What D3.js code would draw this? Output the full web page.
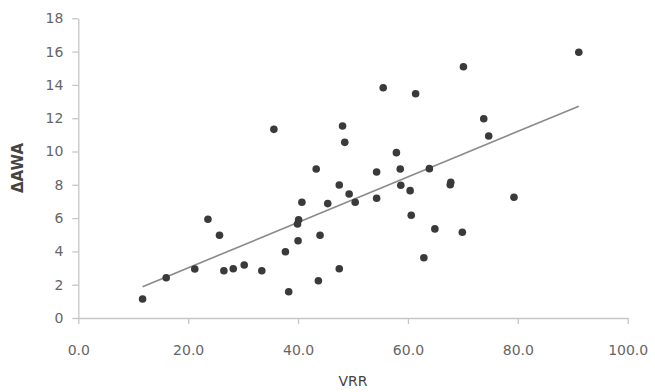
<!DOCTYPE html>
<html><head><meta charset="utf-8">
<script src="https://cdn.jsdelivr.net/npm/d3@7"></script>
<style>body{margin:0;background:#fff}svg{display:block}</style>
</head><body>
<svg id="c" width="655" height="392"></svg>
<script>
const vrr = [11.7,16.0,21.2,23.6,25.7,26.5,28.2,30.2,33.4,35.6,37.7,38.3,39.9,40.1,40.0,40.7,43.3,43.7,44.0,45.4,47.5,47.5,48.1,48.5,49.3,50.4,54.3,54.3,55.5,57.9,58.6,58.7,60.4,60.6,61.4,62.9,63.9,64.9,67.7,67.8,69.9,70.1,73.8,74.7,79.3,91.1];
const dAWA = [1.14,2.42,2.94,5.93,4.97,2.84,2.96,3.18,2.84,11.33,3.98,1.58,5.65,5.9,4.64,6.95,8.95,2.24,4.97,6.87,7.99,2.96,11.53,10.55,7.45,6.95,8.77,7.19,13.83,9.93,8.95,7.97,7.65,6.17,13.47,3.62,8.97,5.35,8.0,8.15,5.15,15.09,11.97,10.93,7.25,15.96];
const trendSlope = 0.1366, trendIntercept = 0.28;
const xTicks = [0,20,40,60,80,100];
const yTicks = [0,2,4,6,8,10,12,14,16,18];
const xTitle = "VRR", yTitle = "ΔAWA";

const svg = d3.select("#c");
const x = d3.scaleLinear().domain([0,100]).range([78.3,627.7]);
const y = d3.scaleLinear().domain([0,18]).range([318,18.3]);
const axisCol = "#c6c6c6", txtCol = "#666";
const font = "'DejaVu Sans', sans-serif";

const gx = svg.append("g").attr("transform",`translate(0,${y(0)})`)
  .call(d3.axisBottom(x).tickValues(xTicks).tickFormat(d3.format(".1f")).tickSize(6).tickSizeOuter(0).tickPadding(21));
const gy = svg.append("g").attr("transform",`translate(${x(0)},0)`)
  .call(d3.axisLeft(y).tickValues(yTicks).tickSize(6).tickSizeOuter(0).tickPadding(9));
[gx,gy].forEach(g=>{
  g.selectAll("path,line").attr("stroke",axisCol).attr("stroke-width",1.3);
  g.selectAll("text").attr("fill",txtCol).attr("font-family",font).attr("font-size",14);
});

svg.append("line")
  .attr("x1",x(d3.min(vrr))).attr("y1",y(trendIntercept+trendSlope*d3.min(vrr)))
  .attr("x2",x(d3.max(vrr))).attr("y2",y(trendIntercept+trendSlope*d3.max(vrr)))
  .attr("stroke","#8a8a8a").attr("stroke-width",1.6);

svg.append("g").selectAll("circle").data(vrr).join("circle")
  .attr("cx",d=>x(d)).attr("cy",(d,i)=>y(dAWA[i])).attr("r",3.8).attr("fill","#3a3a3a");

svg.append("text").attr("x",353).attr("y",386).attr("text-anchor","middle")
  .attr("font-family",font).attr("font-size",14).attr("fill","#444").text(xTitle);
svg.append("text").attr("transform","translate(23,168) rotate(-90)").attr("text-anchor","middle")
  .attr("font-family",font).attr("font-weight","bold").attr("font-size",15).attr("fill","#444").text(yTitle);
</script>
</body></html>
